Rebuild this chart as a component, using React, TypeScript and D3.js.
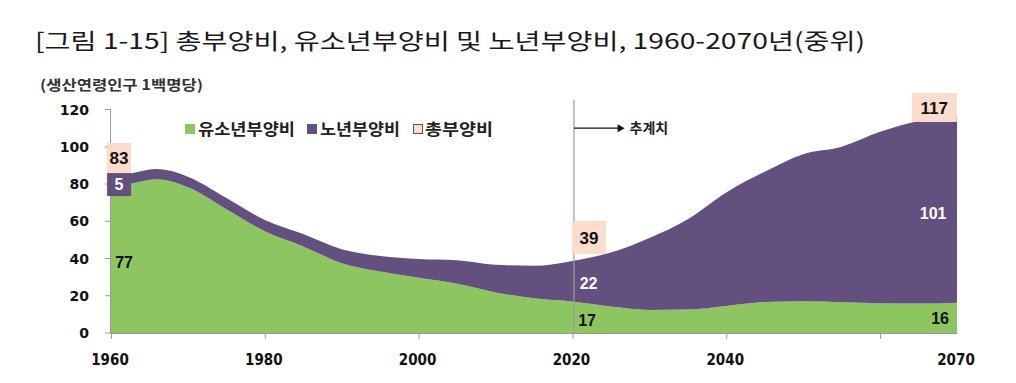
import React from "react";
import * as d3 from "d3";

const years = [1960, 1963, 1966, 1970, 1975, 1980, 1985, 1990, 1995, 2000, 2005, 2010, 2015, 2020, 2025, 2030, 2035, 2040, 2045, 2050, 2055, 2060, 2065, 2070];
const youth = [77.3, 80.5, 82.5, 78.2, 66.5, 54.6, 46.5, 37.5, 33.0, 29.6, 26.4, 21.8, 18.6, 16.9, 14.2, 12.4, 12.6, 14.5, 16.6, 17.0, 16.5, 16.0, 15.8, 16.3];
const old = [5.3, 5.5, 5.5, 5.7, 6.0, 6.1, 6.6, 7.4, 8.3, 10.1, 12.6, 14.8, 17.5, 21.8, 29.0, 38.6, 48.5, 61.0, 70.0, 79.0, 83.5, 92.0, 98.0, 100.6];
const yTicks = [0, 20, 40, 60, 80, 100, 120];
const xTicks = [1960, 1980, 2000, 2020, 2040, 2060];
const xTickLabels = ["1960", "1980", "2000", "2020", "2040", "2070"];
const xLabelYears = [1960, 1980, 2000, 2020, 2040, 2070];
const legendItems = ["유소년부양비", "노년부양비", "총부양비"];

// annotation labels: [text, year, value, kind]
const labels: [string, number, number, string][] = [
  ["83", 1961.05, 94.0, "total"],
  ["5", 1961.05, 79.7, "old"],
  ["77", 1961.7, 38.1, "youth"],
  ["39", 2022.15, 51.3, "total"],
  ["22", 2022.1, 26.8, "old"],
  ["17", 2021.9, 7.0, "youth"],
  ["117", 2067.05, 121.1, "total"],
  ["101", 2066.9, 64.4, "old"],
  ["16", 2067.8, 8.0, "youth"],
];

const GREEN = "#8dc660";
const PURPLE = "#63507f";
const PEACH = "#fbdccd";
const KR = "'Noto Sans CJK KR', 'Noto Sans', sans-serif";

export default function App() {
  const x = d3.scaleLinear().domain([1960, 2070]).range([111, 957]);
  const y = d3.scaleLinear().domain([0, 120]).range([333, 109.5]);

  const rows = years.map((yr, i) => ({ year: yr, youth: youth[i], old: old[i] }));
  const stack = d3.stack<any>().keys(["youth", "old"]);
  const series = stack(rows);
  const area = d3
    .area<any>()
    .x((d) => x(d.data.year))
    .y0((d) => y(d[0]))
    .y1((d) => y(d[1]))
    .curve(d3.curveMonotoneX);

  const colors = [GREEN, PURPLE];

  const boxSize: Record<string, [number, number]> = {
    "83": [24, 30],
    "5": [24, 23],
    "39": [34, 33],
    "117": [45, 29],
  };

  return (
    <svg width={1016} height={383} style={{ position: "absolute", left: 0, top: 0, background: "#fff" }}>
      <text x={35} y={49} fontFamily={KR} fontSize={22} fill="#1a1a1a" textLength={830} lengthAdjust="spacingAndGlyphs">
        [그림 1-15] 총부양비, 유소년부양비 및 노년부양비, 1960-2070년(중위)
      </text>
      <text x={40} y={90} fontFamily={KR} fontSize={14} fontWeight={700} fill="#333" textLength={163} lengthAdjust="spacingAndGlyphs">
        (생산연령인구 1백명당)
      </text>

      {series.map((s, i) => (
        <path key={i} d={area(s as any) || ""} fill={colors[i]} />
      ))}

      {/* y axis */}
      <line x1={110.5} x2={110.5} y1={y(120)} y2={y(0)} stroke="#9a9a9a" strokeWidth={1} />
      {yTicks.map((t) => (
        <g key={t}>
          <line x1={105} x2={110.5} y1={y(t)} y2={y(t)} stroke="#9a9a9a" />
          <text x={89} y={y(t)} dy="0.36em" textAnchor="end" fontFamily="'DejaVu Sans', sans-serif" fontWeight={700} fontSize={14} fill="#111">
            {t}
          </text>
        </g>
      ))}

      {/* x axis */}
      <line x1={110} x2={957} y1={y(0) + 0.5} y2={y(0) + 0.5} stroke="#9a9a9a" />
      {xTicks.map((t) => (
        <line key={t} x1={x(t) + 0.5} x2={x(t) + 0.5} y1={y(0)} y2={y(0) + 6} stroke="#9a9a9a" />
      ))}
      {xLabelYears.map((t, i) => (
        <text key={t} x={x(t) - 1} y={365} textAnchor="middle" fontFamily="'DejaVu Sans Condensed', 'DejaVu Sans', sans-serif" fontStretch="condensed" fontWeight={700} fontSize={15} fill="#111">
          {xTickLabels[i]}
        </text>
      ))}

      {/* projection divider */}
      <line x1={x(2020) + 1.5} x2={x(2020) + 1.5} y1={100} y2={y(0)} stroke="#9a9a9a" strokeWidth={1.2} />
      <line x1={x(2020) + 1.5} x2={x(2026)} y1={y(110)} y2={y(110)} stroke="#111" strokeWidth={1.2} />
      <path d={`M${x(2026) - 1},${y(110) - 4} L${x(2026) + 6},${y(110)} L${x(2026) - 1},${y(110) + 4} Z`} fill="#111" />
      <text x={x(2026) + 11} y={y(110)} dy="0.36em" fontFamily={KR} fontWeight={700} fontSize={14} fill="#222">
        추계치
      </text>

      {/* legend */}
      <g fontFamily={KR} fontWeight={700} fontSize={16} fill="#222">
        <rect x={185} y={124} width={10} height={10} fill={GREEN} />
        <text x={198} y={129} dy="0.36em" textLength={97} lengthAdjust="spacingAndGlyphs">{legendItems[0]}</text>
        <rect x={307} y={124} width={10} height={10} fill={PURPLE} />
        <text x={320} y={129} dy="0.36em" textLength={80} lengthAdjust="spacingAndGlyphs">{legendItems[1]}</text>
        <rect x={413.5} y={124.5} width={9} height={9} fill={PEACH} stroke="#555" strokeWidth={1} />
        <text x={425} y={129} dy="0.36em" textLength={68} lengthAdjust="spacingAndGlyphs">{legendItems[2]}</text>
      </g>

      {/* data labels */}
      {labels.map(([t, yr, v, kind]) => {
        const cx = x(yr);
        const cy = y(v);
        const box = boxSize[t];
        return (
          <g key={t}>
            {box && (
              <rect x={cx - box[0] / 2} y={cy - box[1] / 2} width={box[0]} height={box[1]} fill={kind === "total" ? PEACH : PURPLE} />
            )}
            <text x={cx} y={cy} dy="0.36em" textAnchor="middle" fontFamily="'Liberation Sans', Arial, sans-serif" fontWeight={700} fontSize={kind === "total" ? 17 : 16} fill={kind === "old" ? "#fff" : "#111"}>
              {t}
            </text>
          </g>
        );
      })}
    </svg>
  );
}
